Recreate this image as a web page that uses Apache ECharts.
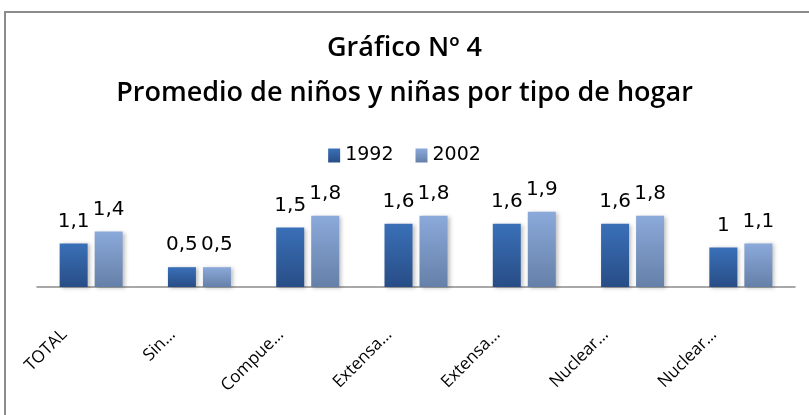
<!DOCTYPE html>
<html>
<head>
<meta charset="utf-8">
<script src="https://cdn.jsdelivr.net/npm/echarts@6/dist/echarts.min.js"></script>
<style>
  html, body { margin: 0; padding: 0; background: #fff; }
  #chart { width: 809px; height: 415px; }
</style>
</head>
<body>
<div id="chart"></div>
<script>
// categories (truncated as in the source chart)
const categories = ['TOTAL', 'Sin…', 'Compue…', 'Extensa…', 'Extensa…', 'Nuclear…', 'Nuclear…']
const data1992 = [1.1, 0.5, 1.5, 1.6, 1.6, 1.6, 1.0]
const data2002 = [1.4, 0.5, 1.8, 1.8, 1.9, 1.8, 1.1]
const seriesNames = ['1992', '2002']

const chart = echarts.init(document.getElementById('chart'))

// etiqueta con coma decimal
const fmt = p => String(p.value).replace('.', ',')

const labelStyle = {
  show: true,
  position: 'top',
  distance: 12,
  fontFamily: 'DejaVu Sans',
  fontSize: 20,
  color: '#000',
  formatter: fmt,
}

const option = {
  backgroundColor: '#fff',
  animation: false,
  title: {
    text: 'Gráfico Nº 4\nPromedio de niños y niñas por tipo de hogar',
    left: 'center',
    top: 21,
    textStyle: {
      fontFamily: 'Open Sans',
      fontSize: 27,
      fontWeight: 600,
      color: '#000',
      lineHeight: 45,
    },
  },
  legend: {
    top: 141,
    left: 'center',
    itemWidth: 12,
    itemHeight: 14,
    itemGap: 22,
    icon: 'rect',
    textStyle: {
      fontFamily: 'DejaVu Sans',
      fontSize: 19,
      color: '#000',
    },
    data: seriesNames,
  },
  graphic: [
    {
      type: 'rect',
      shape: { x: 5, y: 12, width: 900, height: 500 },
      style: { fill: 'none', stroke: '#8c8c8c', lineWidth: 2 },
      silent: true,
    },
  ],
  grid: {
    left: 37,
    right: 14,
    top: 188,
    bottom: 128,
  },
  xAxis: {
    type: 'category',
    data: categories,
    axisLine: { lineStyle: { color: '#8c8c8c', width: 1.5 } },
    axisTick: { show: false },
    axisLabel: {
      rotate: 45,
      margin: 18,
      padding: [0, 38, 0, 0],
      fontFamily: 'Open Sans',
      fontSize: 17,
      color: '#000',
      interval: 0,
    },
  },
  yAxis: {
    type: 'value',
    min: 0,
    max: 2.5,
    show: false,
    splitLine: { show: false },
  },
  series: [
    {
      name: seriesNames[0],
      type: 'bar',
      barWidth: 28,
      barGap: '25%',
      itemStyle: {
        color: new echarts.graphic.LinearGradient(0, 0, 0, 1, [
          { offset: 0, color: '#3a70b8' },
          { offset: 1, color: '#284d86' },
        ]),
        shadowColor: 'rgba(0,0,0,0.25)',
        shadowBlur: 4,
        shadowOffsetX: 2,
        shadowOffsetY: 1,
      },
      label: labelStyle,
      data: data1992,
    },
    {
      name: seriesNames[1],
      type: 'bar',
      barWidth: 28,
      itemStyle: {
        color: new echarts.graphic.LinearGradient(0, 0, 0, 1, [
          { offset: 0, color: '#8ba9da' },
          { offset: 1, color: '#6580a8' },
        ]),
        shadowColor: 'rgba(0,0,0,0.25)',
        shadowBlur: 4,
        shadowOffsetX: 2,
        shadowOffsetY: 1,
      },
      label: labelStyle,
      data: data2002,
    },
  ],
}
chart.setOption(option)
</script>
</body>
</html>
